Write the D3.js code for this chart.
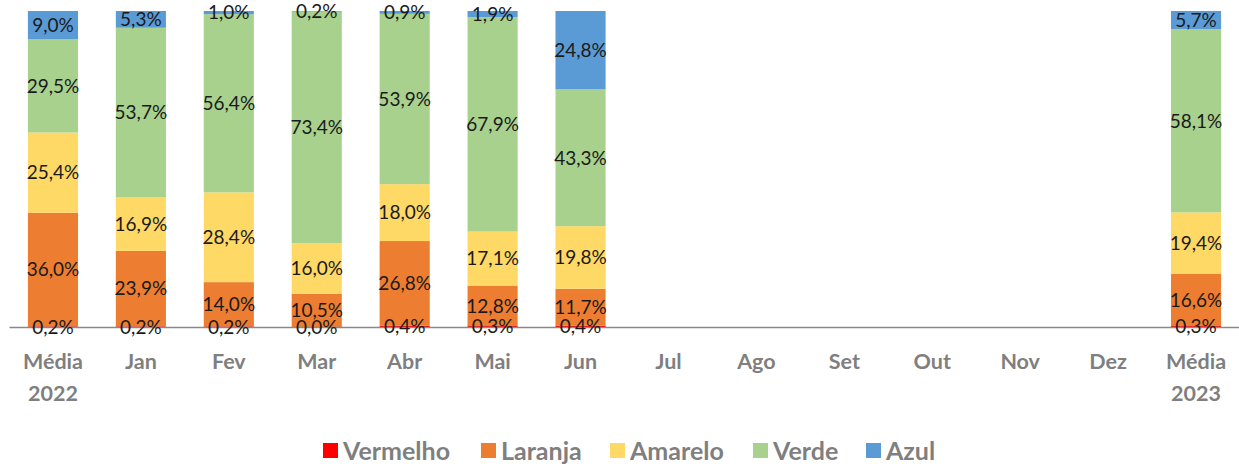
<!DOCTYPE html>
<html lang="pt">
<head>
<meta charset="UTF-8">
<title>Distribuição por faixa</title>
<script src="https://d3js.org/d3.v7.min.js"></script>
<style>
    body { margin: 0; background: #ffffff; font-family: Lato, "Open Sans", sans-serif; }
    svg { display: block; }
</style>
</head>
<body>
<svg id="chart" width="1239" height="464"></svg>
<script>
    const categories = ['Média 2022', 'Jan', 'Fev', 'Mar', 'Abr', 'Mai', 'Jun',
                        'Jul', 'Ago', 'Set', 'Out', 'Nov', 'Dez', 'Média 2023'];
    const seriesNames = ['Vermelho', 'Laranja', 'Amarelo', 'Verde', 'Azul'];
    const seriesColors = ['#ff0000', '#ed7d31', '#ffd966', '#a9d18e', '#5b9bd5'];

    // percentages per category (null = month with no data)
    const vermelho = [0.2, 0.2, 0.2, 0.0, 0.4, 0.3, 0.4, null, null, null, null, null, null, 0.3];
    const laranja  = [36.0, 23.9, 14.0, 10.5, 26.8, 12.8, 11.7, null, null, null, null, null, null, 16.6];
    const amarelo  = [25.4, 16.9, 28.4, 16.0, 18.0, 17.1, 19.8, null, null, null, null, null, null, 19.4];
    const verde    = [29.5, 53.7, 56.4, 73.4, 53.9, 67.9, 43.3, null, null, null, null, null, null, 58.1];
    const azul     = [9.0, 5.3, 1.0, 0.2, 0.9, 1.9, 24.8, null, null, null, null, null, null, 5.7];

    const seriesValues = [vermelho, laranja, amarelo, verde, azul];

    const svg = d3.select('#chart');
    const plotTop = 11, plotBottom = 327;

    const x = d3.scaleBand()
        .domain(categories)
        .range([9, 1240])
        .paddingInner(0.43)
        .paddingOuter(0.215);

    const y = d3.scaleLinear().domain([0, 100]).range([plotBottom, plotTop]);

    // build stacked rows, normalized to 100% like a 100% stacked column chart
    const rows = categories.map((c, i) => {
        const row = { cat: c };
        seriesNames.forEach((s, j) => { row[s] = seriesValues[j][i] || 0; });
        return row;
    }).filter((r, i) => vermelho[i] !== null);

    rows.forEach(r => {
        r.total = d3.sum(seriesNames, s => r[s]);
    });

    const stack = d3.stack()
        .keys(seriesNames)
        .value((d, key) => d[key] / d.total * 100);
    const stacked = stack(rows);

    const layers = svg.append('g').selectAll('g')
        .data(stacked)
        .join('g')
        .attr('fill', (d, i) => seriesColors[i]);

    layers.selectAll('rect')
        .data(d => d)
        .join('rect')
        .attr('x', d => x(d.data.cat))
        .attr('width', x.bandwidth())
        .attr('y', d => y(d[1]))
        .attr('height', d => y(d[0]) - y(d[1]));

    // axis line
    const xAxis = svg.append('g')
        .attr('transform', `translate(0,${plotBottom})`)
        .call(d3.axisBottom(x).tickSize(0).tickSizeOuter(0).tickFormat(''));
    xAxis.select('.domain').attr('stroke', '#898989').attr('stroke-width', 1.3);

    // data labels, drawn above every bar and the axis
    const fmt = v => v.toFixed(1).replace('.', ',') + '%';
    const labelData = stacked.flatMap(layer => layer.map(p => ({ p, key: layer.key })));
    svg.append('g').selectAll('text')
        .data(labelData)
        .join('text')
        .attr('x', d => x(d.p.data.cat) + x.bandwidth() / 2)
        .attr('y', d => y((d.p[0] + d.p[1]) / 2))
        .attr('dy', '0.36em')
        .attr('text-anchor', 'middle')
        .attr('fill', '#1a1a1a')
        .style('font-size', '19px')
        .text(d => fmt(d.p.data[d.key]));

    // category labels
    const catLabels = svg.append('g').selectAll('text')
        .data(categories)
        .join('text')
        .attr('x', d => x(d) + x.bandwidth() / 2)
        .attr('y', 369)
        .attr('text-anchor', 'middle')
        .attr('fill', '#7f7f7f')
        .style('font-size', '21.5px')
        .style('font-weight', 'bold');
    catLabels.each(function(d) {
        const t = d3.select(this);
        d.split(' ').forEach((p, i) => {
            t.append('tspan')
                .attr('x', x(d) + x.bandwidth() / 2)
                .attr('dy', i === 0 ? 0 : 32)
                .text(p);
        });
    });

    // legend
    const legendX = [323, 481, 610, 753, 866];
    const legend = svg.append('g').selectAll('g')
        .data(seriesNames)
        .join('g')
        .attr('transform', (d, i) => `translate(${legendX[i]},443)`);
    legend.append('rect')
        .attr('width', 15).attr('height', 15)
        .attr('fill', (d, i) => seriesColors[i]);
    legend.append('text')
        .attr('x', 20).attr('y', 7.5).attr('dy', '0.36em')
        .attr('fill', '#7f7f7f')
        .style('font-size', '25px')
        .style('font-weight', 'bold')
        .text(d => d);
</script>
</body>
</html>
